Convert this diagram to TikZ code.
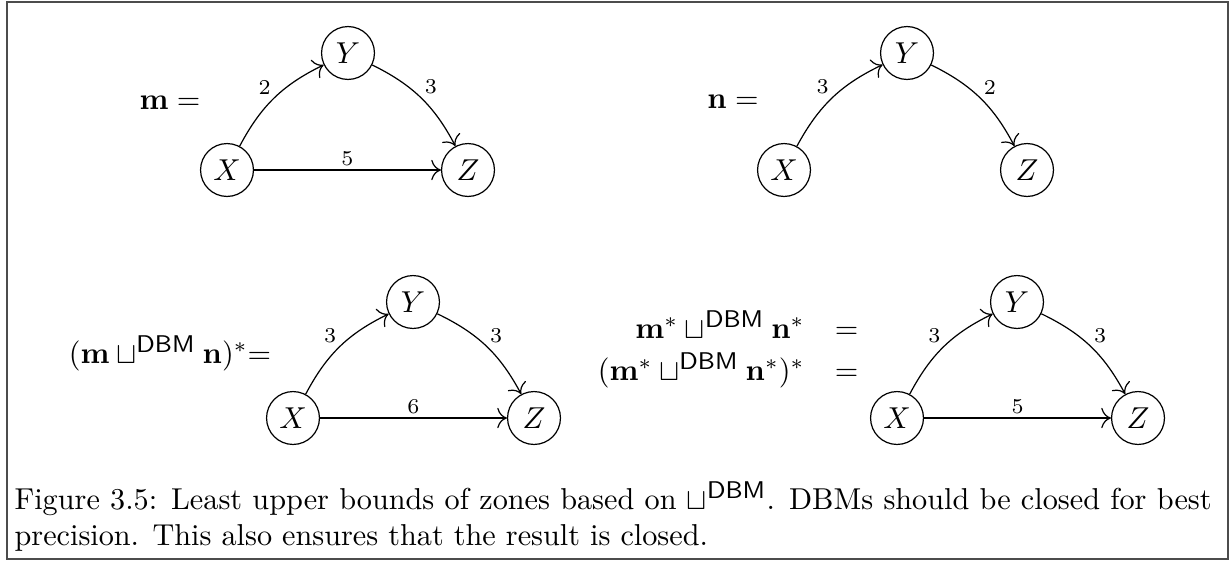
\documentclass[tikz,border=0pt]{standalone}
\usepackage{amsmath}
\usepackage{amssymb}
\usepackage{tikz}
\usetikzlibrary{arrows.meta}

\newcommand{\dbm}{\mbox{\sffamily\footnotesize DBM}}

\tikzset{
  state/.style={circle, draw, minimum size=17.5pt, inner sep=0pt},
  wlbl/.style={font=\scriptsize, inner sep=1pt},
  frm/.style={draw=black!70, line width=0.65pt}
}

\begin{document}
\begin{tikzpicture}[x=0.01163cm, y=-0.01163cm, >={To[scale=1.3]}]
\useasboundingbox (0,0) rectangle (1232,563);
\draw[frm] (7,2) rectangle (1228,559);

% m
\node (meq) at (170,103) {$\mathbf{m} =$};
\node[state] (mX) at (227,170) {$X$};
\node[state] (mY) at (348,53) {$Y$};
\node[state] (mZ) at (468,170) {$Z$};
\draw[->] (mX) to[bend left=18] node[wlbl, above left] {2} (mY);
\draw[->] (mY) to[bend left=18] node[wlbl, above right] {3} (mZ);
\draw[->] (mX) -- node[wlbl, above] {5} (mZ);

% n
\node (neq) at (733,102) {$\mathbf{n} =$};
\node[state] (nX) at (784,170) {$X$};
\node[state] (nY) at (907,53) {$Y$};
\node[state] (nZ) at (1027,170) {$Z$};
\draw[->] (nX) to[bend left=18] node[wlbl, above left] {3} (nY);
\draw[->] (nY) to[bend left=18] node[wlbl, above right] {2} (nZ);

% (m lub n)*
\node (jeq) at (170,353) {$(\mathbf{m} \sqcup^{\dbm} \mathbf{n})^{*}{=}$};
\node[state] (jX) at (293,418) {$X$};
\node[state] (jY) at (413,302) {$Y$};
\node[state] (jZ) at (534,418) {$Z$};
\draw[->] (jX) to[bend left=18] node[wlbl, above left] {3} (jY);
\draw[->] (jY) to[bend left=18] node[wlbl, above right] {3} (jZ);
\draw[->] (jX) -- node[wlbl, above] {6} (jZ);

% closed operands
\node[anchor=east, inner sep=0pt] (ceq) at (874,351)
  {$\begin{array}{rc}
     \mathbf{m}^{*} \sqcup^{\dbm} \mathbf{n}^{*} & = \\[1pt]
     (\mathbf{m}^{*} \sqcup^{\dbm} \mathbf{n}^{*})^{*} & =
   \end{array}$};
\node[state] (cX) at (897,418) {$X$};
\node[state] (cY) at (1017,302) {$Y$};
\node[state] (cZ) at (1138,418) {$Z$};
\draw[->] (cX) to[bend left=18] node[wlbl, above left] {3} (cY);
\draw[->] (cY) to[bend left=18] node[wlbl, above right] {3} (cZ);
\draw[->] (cX) -- node[wlbl, above] {5} (cZ);

% caption
\node[anchor=north west, inner sep=0pt, text width=396pt, align=justify] (cap) at (14,481)
  {Figure 3.5: Least upper bounds of zones based on $\sqcup^{\dbm}$. DBMs should be closed for best\linebreak
   precision. This also ensures that the result is closed.};
\end{tikzpicture}
\end{document}
